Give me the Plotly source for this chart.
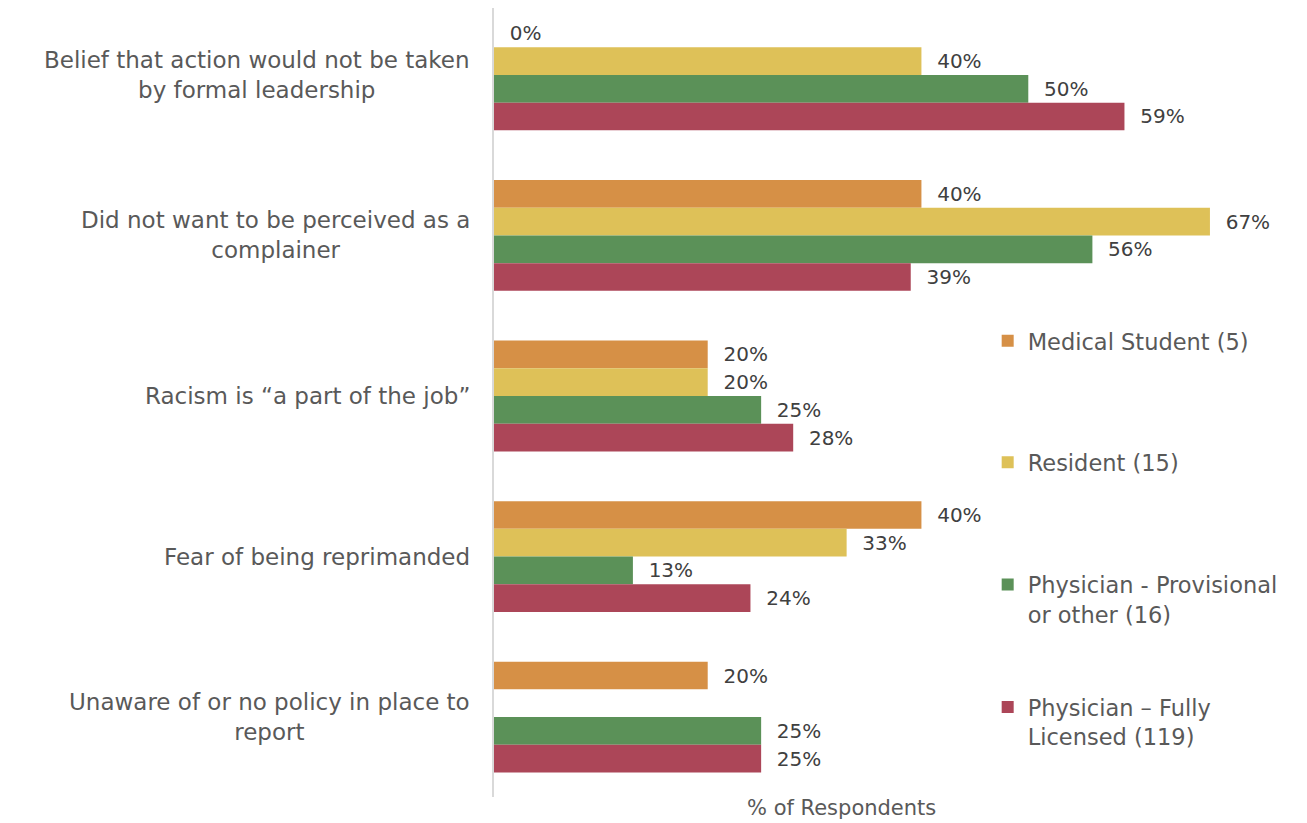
import plotly.graph_objs as go

categories = [
    'Belief that action would not be taken<br>by formal leadership',
    'Did not want to be perceived as a<br>complainer',
    'Racism is \u201ca part of the job\u201d',
    'Fear of being reprimanded',
    'Unaware of or no policy in place to<br>report',
]

medical_student = [0, 40, 20, 40, 20]
resident = [40, 67, 20, 33, None]
physician_provisional = [50, 56, 25, 13, 25]
physician_licensed = [59, 39, 28, 24, 25]

series_names = [
    'Medical Student (5)',
    'Resident (15)',
    'Physician - Provisional<br>or other (16)',
    'Physician \u2013 Fully<br>Licensed (119)',
]
colors = ['#D69046', '#DEC158', '#5B9158', '#AC4658']

FONT = 'DejaVu Sans'
GREY = '#595959'


def plot_bar():
    values = [medical_student, resident, physician_provisional, physician_licensed]
    legend_ids = ['legend', 'legend2', 'legend3', 'legend4']

    fig = go.Figure()
    for name, vals, color, leg in zip(series_names, values, colors, legend_ids):
        fig.add_trace(go.Bar(
            y=categories,
            x=vals,
            name=name,
            orientation='h',
            marker=dict(color=color, line=dict(width=0)),
            text=[None if v is None else '\u00a0\u00a0%d%%' % v for v in vals],
            textposition='outside',
            textfont=dict(family=FONT, size=20, color='#404040'),
            cliponaxis=False,
            legend=leg,
            showlegend=True,
        ))

    # one legend per series so entries can be spread down the right side
    legend_tops = [0.605, 0.451, 0.296, 0.141]
    legends = {}
    for leg, top in zip(legend_ids, legend_tops):
        legends[leg] = dict(
            x=0.66, y=top, xanchor='left', yanchor='top',
            bgcolor='rgba(0,0,0,0)', valign='top',
            font=dict(family=FONT, size=22.5, color=GREY),
            itemwidth=30,
        )

    # centred category labels
    annotations = []
    for cat in categories:
        annotations.append(dict(
            x=0, xref='paper', xanchor='right', xshift=-22,
            y=cat, yref='y', yanchor='middle',
            text=cat, showarrow=False, align='center',
            font=dict(family=FONT, size=23, color=GREY),
        ))
    annotations.append(dict(
        x=32.5, xref='x', xanchor='center',
        y=0, yref='paper', yanchor='top', yshift=3,
        text='% of Respondents', showarrow=False,
        font=dict(family=FONT, size=21, color=GREY),
    ))

    # page body adds 8px, so the figure is 8px smaller on each axis
    fig.update_layout(
        width=1299, height=815,
        margin=dict(l=486, r=65, t=0, b=26),
        plot_bgcolor='white', paper_bgcolor='white',
        barmode='group', bargap=0.31, bargroupgap=0,
        font=dict(family=FONT, color=GREY),
        showlegend=True,
        annotations=annotations,
        **legends,
    )
    fig.update_xaxes(range=[0, 70], showgrid=False, zeroline=False,
                     showticklabels=False, showline=False)
    fig.update_yaxes(range=[4.498, -0.417], showgrid=False, zeroline=False,
                     showticklabels=False, showline=True, linecolor='#D9D9D9',
                     linewidth=2)

    fig.write_html('out.html')


if __name__ == '__main__':
    plot_bar()
